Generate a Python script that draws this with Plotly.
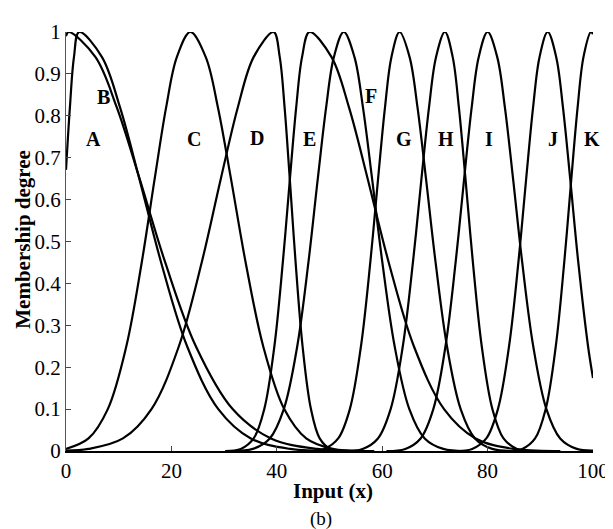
import plotly.graph_objects as go

# Membership curves: (x, degree) points along each curve
A_x = [0, 0.5, 5.6, 9.64, 13.96, 18.83, 24.64, 31.62, 38.9, 47.7, 58.5]
A_y = [0.99, 1, 0.94, 0.82, 0.65, 0.45, 0.25, 0.1, 0.03, 0.005, 0]

B_x = [0, 0.74, 1.51, 2.5, 6.83, 10.25, 13.91, 18.05, 22.98, 28.9, 35.07, 42.54, 51.7]
B_y = [0.671, 0.82, 0.94, 1, 0.94, 0.82, 0.65, 0.45, 0.25, 0.1, 0.03, 0.005, 0]

C_x = [0, 4.27, 7.93, 11.45, 14.37, 16.83, 19.0, 21.03, 23.6,
       26.52, 28.83, 31.3, 34.09, 37.42, 41.41, 45.58, 50.62, 56.8]
C_y = [0.005, 0.03, 0.1, 0.25, 0.45, 0.65, 0.82, 0.94, 1,
       0.94, 0.82, 0.65, 0.45, 0.25, 0.1, 0.03, 0.005, 0]

D_x = [0, 4.25, 10.8, 16.22, 21.42, 25.75, 29.38, 32.6, 35.6, 39.4,
       40.56, 41.48, 42.46, 43.57, 44.89, 46.48, 48.14, 50.14, 52.6]
D_y = [0.001, 0.005, 0.03, 0.1, 0.25, 0.45, 0.65, 0.82, 0.94, 1,
       0.94, 0.82, 0.65, 0.45, 0.25, 0.1, 0.03, 0.005, 0]

E_x = [30.2, 33.18, 35.61, 37.62, 39.54, 41.14, 42.49, 43.68, 44.79, 46.2,
       50.39, 53.7, 57.24, 61.24, 66.01, 71.74, 77.71, 84.93, 93.8]
E_y = [0, 0.005, 0.03, 0.1, 0.25, 0.45, 0.65, 0.82, 0.94, 1,
       0.94, 0.82, 0.65, 0.45, 0.25, 0.1, 0.03, 0.005, 0]

F_x = [31.5, 35.45, 38.67, 41.33, 43.88, 46.0, 47.78, 49.36, 50.83, 52.7,
       54.74, 56.35, 58.08, 60.03, 62.36, 65.15, 68.06, 71.58, 75.9]
F_y = [0, 0.005, 0.03, 0.1, 0.25, 0.45, 0.65, 0.82, 0.94, 1,
       0.94, 0.82, 0.65, 0.45, 0.25, 0.1, 0.03, 0.005, 0]

G_x = [45.7, 48.98, 51.65, 53.86, 55.97, 57.74, 59.22, 60.53, 61.75, 63.3,
       65.2, 66.7, 68.31, 70.13, 72.29, 74.89, 77.6, 80.88, 84.9]
G_y = [0, 0.005, 0.03, 0.1, 0.25, 0.45, 0.65, 0.82, 0.94, 1,
       0.94, 0.82, 0.65, 0.45, 0.25, 0.1, 0.03, 0.005, 0]

H_x = [52.7, 56.28, 59.19, 61.6, 63.91, 65.83, 67.45, 68.88, 70.21, 71.9,
       73.38, 74.55, 75.8, 77.21, 78.89, 80.91, 83.02, 85.57, 88.7]
H_y = [0, 0.005, 0.03, 0.1, 0.25, 0.45, 0.65, 0.82, 0.94, 1,
       0.94, 0.82, 0.65, 0.45, 0.25, 0.1, 0.03, 0.005, 0]

I_x = [60.8, 64.38, 67.29, 69.7, 72.01, 73.93, 75.55, 76.98, 78.31, 80.0,
       81.83, 83.28, 84.83, 86.57, 88.66, 91.16, 93.77, 96.93, 100]
I_y = [0, 0.005, 0.03, 0.1, 0.25, 0.45, 0.65, 0.82, 0.94, 1,
       0.94, 0.82, 0.65, 0.45, 0.25, 0.1, 0.03, 0.005, 0.001]

J_x = [73.8, 77.08, 79.75, 81.96, 84.07, 85.84, 87.32, 88.63, 89.85, 91.4,
       93.02, 94.3, 95.67, 97.21, 99.06, 100]
J_y = [0, 0.005, 0.03, 0.1, 0.25, 0.45, 0.65, 0.82, 0.94, 1,
       0.94, 0.82, 0.65, 0.45, 0.25, 0.174]

K_x = [83.6, 86.58, 89.01, 91.02, 92.94, 94.54, 95.89, 97.08, 98.19, 99.6, 100]
K_y = [0, 0.005, 0.03, 0.1, 0.25, 0.45, 0.65, 0.82, 0.94, 1, 0.995]

curves = [(A_x, A_y), (B_x, B_y), (C_x, C_y), (D_x, D_y), (E_x, E_y), (F_x, F_y),
          (G_x, G_y), (H_x, H_y), (I_x, I_y), (J_x, J_y), (K_x, K_y)]

labels = ["A", "B", "C", "D", "E", "F", "G", "H", "I", "J", "K"]
label_x = [5.2, 7.2, 24.2, 36.3, 46.2, 57.9, 64.2, 72.2, 80.3, 92.4, 99.8]
label_y = [0.744, 0.844, 0.744, 0.747, 0.745, 0.848, 0.745, 0.745, 0.745, 0.745, 0.745]

x_ticks = [0, 20, 40, 60, 80, 100]
y_ticks = [0, 0.1, 0.2, 0.3, 0.4, 0.5, 0.6, 0.7, 0.8, 0.9, 1]
y_ticktext = ["0", "0.1", "0.2", "0.3", "0.4", "0.5", "0.6", "0.7", "0.8", "0.9", "1"]

fig = go.Figure()
for cx, cy in curves:
    fig.add_trace(go.Scatter(x=cx, y=cy, mode="lines",
                             line=dict(color="black", width=2.2, shape="spline", smoothing=1.0),
                             showlegend=False, hoverinfo="skip"))

font = "Liberation Serif"
for t, lx, ly in zip(labels, label_x, label_y):
    fig.add_annotation(x=lx, y=ly, text="<b>%s</b>" % t, showarrow=False,
                       xanchor="center", yanchor="middle",
                       font=dict(family=font, size=20, color="black"))

fig.add_annotation(xref="paper", yref="paper", x=0.506, y=-0.0953, text="<b>Input (x)</b>",
                   xanchor="center", yanchor="middle", showarrow=False,
                   font=dict(family=font, size=21, color="black"))
fig.add_annotation(xref="paper", yref="paper", x=-0.081, y=0.505, text="<b>Membership degree</b>",
                   xanchor="center", yanchor="middle", textangle=-90, showarrow=False,
                   font=dict(family=font, size=21, color="black"))
fig.add_annotation(xref="paper", yref="paper", x=0.483, y=-0.1628, text="(b)",
                   xanchor="center", yanchor="middle", showarrow=False,
                   font=dict(family=font, size=19, color="black"))

fig.update_layout(
    width=613, height=529,
    margin=dict(l=58, r=17, t=13, b=86),
    paper_bgcolor="white", plot_bgcolor="white",
    xaxis=dict(range=[0, 100], tickvals=x_ticks, ticks="inside", ticklen=5,
               showline=True, linecolor="black", linewidth=2, showgrid=False,
               zeroline=False, tickfont=dict(family=font, size=21, color="black")),
    yaxis=dict(range=[0, 1], tickvals=y_ticks, ticktext=y_ticktext, ticks="inside",
               ticklen=5, showline=True, linecolor="#555", linewidth=1, showgrid=False,
               zeroline=False, tickfont=dict(family=font, size=21, color="black")),
)
fig.write_html("out.html")
